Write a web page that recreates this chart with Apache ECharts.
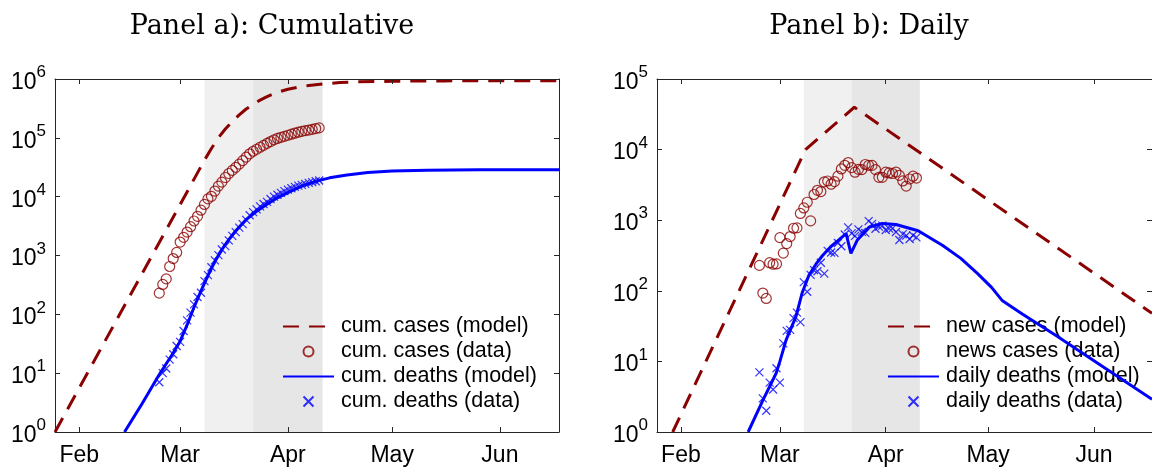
<!DOCTYPE html>
<html>
<head>
<meta charset="utf-8">
<script src="https://cdn.jsdelivr.net/npm/echarts@6/dist/echarts.min.js"></script>
<style>
html,body{margin:0;padding:0;background:#fff;}
#chart{width:1152px;height:467px;}
</style>
</head>
<body>
<div id="chart"></div>
<script>
// x values are days counted from Feb 1 (Feb 1 = 0)
const monthTickDays = [0, 29, 60, 90, 121];
const monthTickLabels = ['Feb', 'Mar', 'Apr', 'May', 'Jun'];
const xRange = [-7, 138];
const shadeBounds = [36, 50, 70];

// data: Feb 24 .. Apr 10
const dataFirstDay = 23;
const cumCasesData = [229,322,400,650,888,1128,1694,2036,2502,3089,3858,4636,5883,7375,9172,10149,12462,15113,17660,21157,24747,27980,31506,35713,41035,47021,53578,59138,63927,69176,74386,80539,86498,92472,97689,101739,105792,110574,115242,119827,124632,128948,132547,135586,139422,143626,147577];
const cumDeathsData = [7,10,12,17,21,29,34,52,79,107,148,197,233,366,463,631,827,1016,1266,1441,1809,2158,2503,2978,3405,4032,4825,5476,6077,6820,7503,8165,9134,10023,10779,11591,12428,13155,13915,14681,15362,15887,16523,17127,17669,18279,18849];
const dailyCasesData = [229,93,78,250,238,240,566,342,466,587,769,778,1247,1492,1797,977,2313,2651,2547,3497,3590,3233,3526,4207,5322,5986,6557,5560,4789,5249,5210,6153,5959,5974,5217,4050,4053,4782,4668,4585,4805,4316,3599,3039,3836,4204,3951];
const dailyDeathsData = [7,3,2,5,4,8,5,18,27,28,41,49,36,133,97,168,196,189,250,175,368,349,345,475,427,627,793,651,601,743,683,662,969,889,756,812,837,727,760,766,681,525,636,604,542,610,570];

// model curves
const cumCasesModelDays   = [-7, 10, 25, 36, 38, 40, 42, 44, 46, 48, 50, 52, 54, 56, 58, 60, 63, 66, 70, 75, 80, 90, 105, 138];
const cumCasesModelValues = [1, 67, 2730, 41700, 66000, 100000, 141000, 190000, 245000, 309000, 372000, 437000, 501000, 562000, 617000, 668000, 724000, 776000, 822000, 871000, 895000, 916000, 929000, 933000];
const cumDeathsModelDays   = [13, 18, 23, 27, 29, 31, 33, 35, 37, 39, 41, 43, 45, 48, 51, 54, 57, 60, 64, 68, 72, 77, 83, 90, 100, 115, 138];
const cumDeathsModelValues = [1, 3.0, 9.5, 22, 35, 66, 132, 251, 457, 794, 1259, 1862, 2630, 4074, 5623, 7413, 9550, 11750, 15100, 18200, 20900, 23400, 25700, 27200, 28200, 28600, 28800];
const dailyCasesModelDays   = [-2.4, 36.5, 50.8, 138];
const dailyCasesModelValues = [1, 10000, 39800, 48];
const dailyDeathsModelDays   = [19.7, 24, 27.9, 29, 30.8, 33.7, 35.5, 37.5, 39.6, 41.5, 43.8, 46, 48.4, 49.8, 51.7, 55.1, 59, 63, 69.5, 76.7, 82, 87, 91, 94.2, 100, 110, 120, 138];
const dailyDeathsModelValues = [1, 2.8, 6.8, 10, 20, 43, 93, 166, 240, 316, 417, 513, 646, 339, 525, 794, 900, 870, 708, 437, 288, 174, 112, 72, 47, 23, 11, 2.9];

const panelTitles = ['Panel a): Cumulative', 'Panel b): Daily'];
const legendA = ['cum. cases (model)', 'cum. cases (data)', 'cum. deaths (model)', 'cum. deaths (data)'];
const legendB = ['new cases (model)', 'news cases (data)', 'daily deaths (model)', 'daily deaths (data)'];

const RED = '#8b0000', BLUE = '#0000ff', AX = '#262626';
const FONT = '"Liberation Sans", Arial, sans-serif';
const CROSS = 'path://M0 0L10 10M10 0L0 10';

function zip(xs, ys) { return xs.map((x, i) => [x, ys[i]]); }
function dataPts(vals) { return vals.map((v, i) => [dataFirstDay + i, v]); }

const gridA = {left: 55, top: 79, width: 504, height: 353};
const gridB = {left: 657, top: 79, width: 504, height: 353};

function xAxes(gi) {
  const common = {
    type: 'value', gridIndex: gi, min: xRange[0], max: xRange[1], z: 10,
    axisLine: {show: true, onZero: false, lineStyle: {color: AX, width: 1}},
    axisTick: {show: true, inside: true, length: 5, customValues: monthTickDays, lineStyle: {color: AX}},
    splitLine: {show: false}
  };
  return [
    Object.assign({}, common, {
      position: 'bottom',
      axisLabel: {show: true, customValues: monthTickDays, margin: 12, fontSize: 23, fontFamily: FONT, color: '#000',
        formatter: v => monthTickLabels[monthTickDays.indexOf(v)] || ''}
    }),
    Object.assign({}, common, {position: 'top', axisLabel: {show: false}})
  ];
}
function yAxes(gi, maxV) {
  const common = {
    type: 'log', logBase: 10, gridIndex: gi, min: 1, max: maxV, z: 10,
    axisLine: {show: true, onZero: false, lineStyle: {color: AX, width: 1}},
    axisTick: {show: true, inside: true, length: 5, lineStyle: {color: AX}},
    minorTick: {show: false}, splitLine: {show: false}
  };
  return [
    Object.assign({}, common, {
      position: 'left',
      axisLabel: {show: true, margin: 9,
        formatter: v => '{b|10}{s|' + Math.round(Math.log10(v)) + '}',
        rich: {
          b: {fontSize: 23, fontFamily: FONT, color: '#000', padding: [7, 0, 0, 0]},
          s: {fontSize: 17, fontFamily: FONT, color: '#000', verticalAlign: 'top'}
        }}
    }),
    Object.assign({}, common, {position: 'right', axisLabel: {show: false}})
  ];
}

function shading() {
  return {
    silent: true, z: 1,
    data: [
      [{xAxis: shadeBounds[0], itemStyle: {color: '#f0f0f0'}}, {xAxis: shadeBounds[1]}],
      [{xAxis: shadeBounds[1], itemStyle: {color: '#e6e6e6'}}, {xAxis: shadeBounds[2]}]
    ]
  };
}

function panelSeries(xi, yi, names, caseModel, caseData, deathModel, deathData) {
  return [
    {name: names[0], type: 'line', xAxisIndex: xi, yAxisIndex: yi, data: caseModel, symbol: 'none',
      lineStyle: {color: RED, width: 3, type: [16, 10]}, itemStyle: {color: RED}, markArea: shading(), z: 3},
    {name: names[1], type: 'scatter', xAxisIndex: xi, yAxisIndex: yi, data: caseData, symbol: 'circle', symbolSize: 10,
      itemStyle: {color: 'none', borderColor: RED, borderWidth: 1.2}, z: 4},
    {name: names[2], type: 'line', xAxisIndex: xi, yAxisIndex: yi, data: deathModel, symbol: 'none',
      lineStyle: {color: BLUE, width: 3}, itemStyle: {color: BLUE}, z: 5},
    {name: names[3], type: 'scatter', xAxisIndex: xi, yAxisIndex: yi, data: deathData, symbol: CROSS, symbolSize: 8,
      itemStyle: {color: 'none', borderColor: BLUE, borderWidth: 1.2}, z: 6}
  ];
}

function legend(names, left) {
  return {
    data: names.map((n, i) => (i % 2 === 0)
      ? {name: n, itemStyle: {opacity: 0}}
      : {name: n}),
    orient: 'vertical', left: left, top: 314, itemWidth: 51, itemHeight: 10, itemGap: 0,
    selectedMode: false, padding: 0,
    textStyle: {fontSize: 21.5, fontFamily: FONT, color: '#000', lineHeight: 25, padding: [0, 0, 0, 2]}
  };
}

const chart = echarts.init(document.getElementById('chart'), null, {renderer: 'canvas'});
chart.setOption({
  animation: false,
  backgroundColor: '#fff',
  grid: [gridA, gridB],
  xAxis: [...xAxes(0), ...xAxes(1)],
  yAxis: [...yAxes(0, 1e6), ...yAxes(1, 1e5)],
  legend: [legend(legendA, 282), legend(legendB, 887)],
  graphic: [
    {type: 'text', x: 272, y: 27, style: {text: panelTitles[0], fontSize: 27, fontFamily: '"DejaVu Serif", serif', fill: '#000', align: 'center', verticalAlign: 'middle'}},
    {type: 'text', x: 869, y: 27, style: {text: panelTitles[1], fontSize: 27, fontFamily: '"DejaVu Serif", serif', fill: '#000', align: 'center', verticalAlign: 'middle'}}
  ],
  series: [
    ...panelSeries(0, 0, legendA, zip(cumCasesModelDays, cumCasesModelValues), dataPts(cumCasesData),
      zip(cumDeathsModelDays, cumDeathsModelValues), dataPts(cumDeathsData)),
    ...panelSeries(2, 2, legendB, zip(dailyCasesModelDays, dailyCasesModelValues), dataPts(dailyCasesData),
      zip(dailyDeathsModelDays, dailyDeathsModelValues), dataPts(dailyDeathsData))
  ]
});
</script>
</body>
</html>
